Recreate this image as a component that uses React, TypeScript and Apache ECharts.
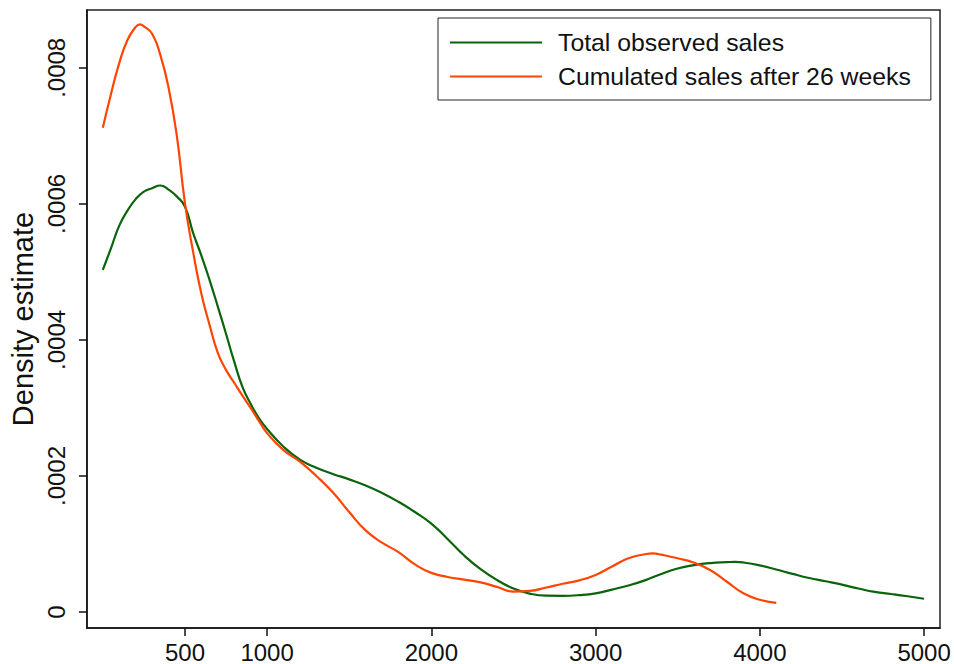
import React, { useEffect, useRef } from "react";
import * as echarts from "echarts";

const xTicks = [500, 1000, 2000, 3000, 4000, 5000];
const yTicks = [0, 0.0002, 0.0004, 0.0006, 0.0008];

const totalX = [0, 50, 100, 150, 200, 250, 300, 350, 400, 450, 500, 550, 600, 650, 700, 750, 800, 850, 900, 950, 1000, 1100, 1200, 1300, 1400, 1500, 1600, 1700, 1800, 1900, 2000, 2100, 2200, 2300, 2400, 2500, 2600, 2700, 2800, 2900, 3000, 3100, 3200, 3300, 3400, 3500, 3600, 3700, 3800, 3850, 3900, 4000, 4100, 4200, 4300, 4400, 4500, 4600, 4700, 4800, 4900, 5000];
const totalY = [0.000503, 0.000535, 0.000568, 0.00059, 0.000607, 0.000618, 0.000623, 0.000627, 0.000621, 0.000611, 0.000596, 0.000557, 0.000524, 0.000488, 0.000449, 0.000409, 0.000368, 0.000331, 0.000306, 0.000285, 0.000269, 0.000243, 0.000224, 0.000212, 0.000203, 0.000195, 0.000186, 0.000175, 0.000162, 0.000147, 0.00013, 0.000107, 0.000083, 0.000063, 0.000047, 0.0000345, 0.000027, 0.000024, 0.0000238, 0.0000248, 0.0000275, 0.000033, 0.000039, 0.0000465, 0.000056, 0.000064, 0.000069, 0.000072, 0.0000733, 0.0000737, 0.0000728, 0.0000685, 0.0000625, 0.000056, 0.00005, 0.0000452, 0.0000402, 0.0000345, 0.0000295, 0.0000265, 0.0000232, 0.0000195];

const cumX = [0, 50, 100, 150, 200, 225, 250, 300, 350, 400, 450, 500, 550, 600, 650, 700, 750, 800, 850, 900, 950, 1000, 1100, 1200, 1300, 1400, 1500, 1600, 1700, 1800, 1900, 2000, 2100, 2200, 2300, 2400, 2500, 2600, 2700, 2800, 2900, 3000, 3100, 3200, 3300, 3350, 3400, 3500, 3600, 3700, 3800, 3900, 4000, 4100];
const cumY = [0.000712, 0.000762, 0.000807, 0.000841, 0.00086, 0.000864, 0.000861, 0.00085, 0.000819, 0.000771, 0.000701, 0.000601, 0.000529, 0.000468, 0.000422, 0.000381, 0.000356, 0.000337, 0.000318, 0.0003, 0.000281, 0.000263, 0.000238, 0.000221, 0.0002, 0.000176, 0.000147, 0.00012, 0.000102, 0.000088, 0.00007, 0.0000575, 0.0000515, 0.0000475, 0.0000435, 0.000037, 0.00003, 0.000031, 0.000036, 0.0000415, 0.0000465, 0.0000545, 0.000067, 0.000079, 0.0000849, 0.0000863, 0.0000843, 0.000079, 0.0000725, 0.0000615, 0.0000445, 0.0000275, 0.000018, 0.0000135];

const seriesNames = ["Total observed sales", "Cumulated sales after 26 weeks"];
const seriesColors = ["#0b640b", "#ff4500"];

const FONT = "'Liberation Sans', Arial, sans-serif";

export default function App() {
  const ref = useRef<HTMLDivElement>(null);
  useEffect(() => {
    if (!ref.current) return;
    const chart = echarts.init(ref.current, null, { renderer: "svg" });
    const zip = (xs: number[], ys: number[]) => xs.map((x, i) => [x, ys[i]]);
    chart.setOption({
      animation: false,
      backgroundColor: "#fff",
      textStyle: { fontFamily: FONT },
      grid: {
        left: 84,
        right: 14,
        top: 10,
        bottom: 36,
        show: true,
        borderColor: "#222",
        borderWidth: 1.5,
        backgroundColor: "transparent",
      },
      legend: {
        orient: "vertical",
        left: 438,
        top: 18,
        data: seriesNames,
        icon: "rect",
        itemWidth: 92,
        itemHeight: 2,
        itemGap: 9,
        padding: [12, 20, 11, 12],
        borderColor: "#222",
        borderWidth: 1,
        backgroundColor: "#fff",
        textStyle: {
          fontFamily: FONT,
          fontSize: 24.8,
          color: "#111",
          padding: [0, 0, 0, 11],
        },
      },
      xAxis: {
        type: "value",
        min: -97,
        max: 5097,
        splitLine: { show: false },
        axisLine: { onZero: false, lineStyle: { color: "#111", width: 1.5 } },
        axisTick: {
          customValues: xTicks,
          length: 8,
          lineStyle: { color: "#111", width: 1.5 },
        },
        axisLabel: {
          customValues: xTicks,
          fontSize: 24,
          color: "#111",
          margin: 12,
          fontFamily: FONT,
          formatter: (v: number) => String(v),
        },
      },
      yAxis: {
        type: "value",
        min: -0.0000235,
        max: 0.000885,
        name: "Density estimate",
        nameLocation: "middle",
        nameRotate: 90,
        nameGap: 46,
        nameTextStyle: { fontSize: 29, color: "#111", fontFamily: FONT },
        splitLine: { show: false },
        axisLine: { onZero: false, lineStyle: { color: "#111", width: 1.5 } },
        axisTick: {
          customValues: yTicks,
          length: 8,
          lineStyle: { color: "#111", width: 1.5 },
        },
        axisLabel: {
          customValues: yTicks,
          rotate: 90,
          fontSize: 24,
          color: "#111",
          margin: 18,
          fontFamily: FONT,
          formatter: (v: number) =>
            v === 0 ? "0" : "." + String(Math.round(v * 10000)).padStart(4, "0"),
        },
      },
      series: [
        {
          name: seriesNames[0],
          type: "line",
          data: zip(totalX, totalY),
          showSymbol: false,
          smooth: 0.5,
          lineStyle: { color: seriesColors[0], width: 2.2 },
          itemStyle: { color: seriesColors[0] },
        },
        {
          name: seriesNames[1],
          type: "line",
          data: zip(cumX, cumY),
          showSymbol: false,
          smooth: 0.5,
          lineStyle: { color: seriesColors[1], width: 2.2 },
          itemStyle: { color: seriesColors[1] },
        },
      ],
    });
    return () => chart.dispose();
  }, []);
  return (
    <div
      ref={ref}
      style={{ position: "fixed", left: 0, top: 0, width: 954, height: 664, background: "#fff" }}
    />
  );
}
